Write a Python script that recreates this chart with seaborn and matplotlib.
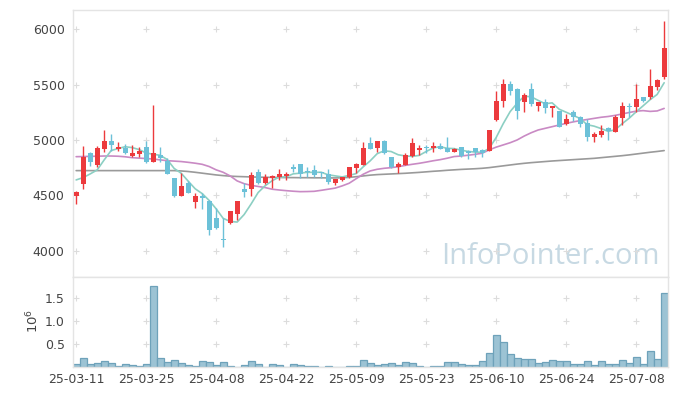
import numpy as np
import pandas as pd
import matplotlib
matplotlib.use("Agg")
import matplotlib.pyplot as plt
import seaborn as sns

tick_labels = ['25-03-11', '25-03-25', '25-04-08', '25-04-22', '25-05-09',
               '25-05-23', '25-06-10', '25-06-24', '25-07-08']

opens = [4497, 4600, 4880, 4778, 4922, 4991, 4922, 4931, 4858, 4877,
         4937, 4805, 4865, 4813, 4654, 4497, 4615, 4443, 4491, 4449,
         4293, 4106, 4253, 4335, 4558, 4561, 4708, 4609, 4660, 4669,
         4672, 4753, 4783, 4723, 4729, 4714, 4693, 4615, 4639, 4663,
         4750, 4777, 4970, 4931, 4991, 4846, 4753, 4777, 4858, 4910,
         4937, 4925, 4946, 4931, 4895, 4937, 4895, 4925, 4910, 4904,
         5181, 5355, 5506, 5461, 5346, 5461, 5307, 5346, 5289, 5262,
         5141, 5250, 5211, 5157, 5030, 5045, 5111, 5075, 5202, 5307,
         5301, 5388, 5385, 5482, 5572]
highs = [4542, 4946, 4895, 4949, 5090, 5051, 4985, 4964, 4958, 4937,
         4994, 5313, 4940, 4834, 4660, 4705, 4625, 4518, 4518, 4458,
         4383, 4293, 4360, 4452, 4609, 4708, 4735, 4693, 4680, 4735,
         4714, 4783, 4783, 4759, 4774, 4714, 4735, 4651, 4666, 4756,
         4789, 4985, 5030, 4994, 5000, 4850, 4798, 4880, 5015, 4955,
         4955, 4979, 4970, 5024, 4925, 4937, 4910, 4928, 4919, 5093,
         5443, 5548, 5533, 5465, 5421, 5512, 5345, 5367, 5307, 5265,
         5235, 5271, 5220, 5187, 5075, 5136, 5114, 5226, 5340, 5331,
         5503, 5391, 5638, 5554, 6077]
lows = [4422, 4555, 4765, 4759, 4895, 4904, 4904, 4874, 4843, 4843,
        4789, 4798, 4798, 4693, 4488, 4495, 4518, 4383, 4374, 4139,
        4193, 4037, 4245, 4278, 4488, 4494, 4600, 4600, 4570, 4639,
        4639, 4708, 4660, 4663, 4663, 4654, 4600, 4594, 4630, 4654,
        4699, 4774, 4916, 4895, 4877, 4750, 4699, 4774, 4850, 4865,
        4880, 4895, 4919, 4892, 4892, 4850, 4826, 4850, 4850, 4901,
        5172, 5301, 5406, 5187, 5250, 5307, 5262, 5241, 5205, 5114,
        5135, 5175, 5114, 4994, 4985, 5030, 5000, 5072, 5132, 5211,
        5256, 5346, 5370, 5452, 5551]
closes = [4530, 4846, 4805, 4925, 4991, 4955, 4937, 4886, 4886, 4901,
          4801, 4880, 4840, 4696, 4497, 4585, 4524, 4494, 4479, 4187,
          4205, 4094, 4356, 4449, 4528, 4684, 4609, 4663, 4675, 4693,
          4696, 4741, 4696, 4714, 4687, 4705, 4624, 4648, 4666, 4756,
          4786, 4928, 4919, 4991, 4886, 4753, 4783, 4865, 4970, 4931,
          4928, 4946, 4922, 4895, 4919, 4858, 4886, 4895, 4886, 5090,
          5352, 5506, 5446, 5265, 5406, 5328, 5343, 5292, 5307, 5120,
          5190, 5205, 5144, 5030, 5054, 5081, 5081, 5211, 5307, 5301,
          5370, 5355, 5488, 5542, 5828]
volumes = [0.073, 0.205, 0.073, 0.095, 0.139, 0.095, 0.030, 0.073, 0.051, 0.030,
           0.073, 1.766, 0.205, 0.117, 0.161, 0.095, 0.051, 0.030, 0.139, 0.117,
           0.051, 0.117, 0.030, 0.010, 0.051, 0.139, 0.073, 0.010, 0.073, 0.051,
           0.010, 0.073, 0.051, 0.030, 0.030, 0.010, 0.030, 0.010, 0.010, 0.030,
           0.030, 0.161, 0.095, 0.051, 0.073, 0.095, 0.051, 0.117, 0.095, 0.030,
           0.010, 0.030, 0.030, 0.117, 0.117, 0.073, 0.051, 0.051, 0.139, 0.315,
           0.710, 0.557, 0.293, 0.205, 0.183, 0.183, 0.095, 0.117, 0.161, 0.139,
           0.139, 0.073, 0.073, 0.139, 0.051, 0.139, 0.073, 0.073, 0.161, 0.095,
           0.227, 0.073, 0.359, 0.183, 1.610]
ma5_head = [4639, 4660, 4693, 4729]
ma20 = [4849, 4850, 4852, 4853, 4855, 4855, 4853, 4848, 4840, 4836,
        4832, 4828, 4820, 4813, 4809, 4805, 4798, 4790, 4780, 4760,
        4730, 4708, 4675, 4630, 4605, 4590, 4580, 4570, 4555, 4548,
        4542, 4537, 4533, 4534, 4536, 4545, 4555, 4565, 4585, 4609,
        4650, 4690, 4720, 4735, 4744, 4750, 4758, 4770, 4780, 4789,
        4800, 4812, 4822, 4835, 4850, 4855, 4862, 4870, 4880, 4910,
        4935, 4955, 4975, 5000, 5035, 5065, 5090, 5105, 5120, 5135,
        5150, 5163, 5175, 5185, 5195, 5205, 5212, 5222, 5235, 5248,
        5260, 5265, 5258, 5262, 5285]
ma60 = [4723, 4723, 4723, 4723, 4723, 4723, 4723, 4723, 4723, 4723,
        4723, 4723, 4723, 4723, 4723, 4720, 4715, 4708, 4700, 4692,
        4684, 4678, 4673, 4670, 4668, 4666, 4664, 4663, 4662, 4661,
        4660, 4660, 4659, 4659, 4658, 4658, 4657, 4657, 4658, 4662,
        4668, 4675, 4682, 4687, 4690, 4693, 4696, 4699, 4703, 4707,
        4712, 4717, 4721, 4726, 4730, 4734, 4737, 4740, 4744, 4750,
        4758, 4766, 4774, 4782, 4789, 4795, 4800, 4805, 4810, 4814,
        4818, 4822, 4826, 4830, 4834, 4840, 4846, 4852, 4858, 4865,
        4873, 4881, 4889, 4896, 4904]

sns.set_theme(style="white")
plt.rcParams['font.family'] = ['DejaVu Sans']

RED = '#ec3a3d'
BLUE = '#6cc1d8'
MA5_C = '#8ccfc3'
MA20_C = '#c98ac4'
MA60_C = '#9a9a9a'
SPINE = '#e4e4e4'
TXT = '#444444'

n = len(closes)
idx = np.arange(n)
ma5 = pd.Series(closes, dtype=float).rolling(5).mean().to_numpy()
ma5[:4] = ma5_head
df = pd.DataFrame({'idx': idx, 'open': opens, 'high': highs, 'low': lows,
                   'close': closes, 'vol': volumes, 'ma5': ma5,
                   'ma20': ma20, 'ma60': ma60})
df['up'] = df['close'] >= df['open']
df['color'] = np.where(df['up'], RED, BLUE)

W, H = 677, 396
fig = plt.figure(figsize=(W / 100, H / 100), dpi=100)
L, R = 73, 668
ax = fig.add_axes([L / W, 1 - 277 / H, (R - L) / W, (277 - 10) / H])
axv = fig.add_axes([L / W, 1 - 367 / H, (R - L) / W, (367 - 277) / H])

# watermark (behind data)
ax.text((550 - L) / (R - L), 1 - (256 - 10) / 267, 'InfoPointer.com',
        transform=ax.transAxes, ha='center', va='center',
        fontsize=21, color='#c7d9e3', family=['Open Sans', 'DejaVu Sans'], zorder=0)

# MA lines
sns.lineplot(data=df, x='idx', y='ma60', ax=ax, color=MA60_C, lw=1.2)
sns.lineplot(data=df, x='idx', y='ma20', ax=ax, color=MA20_C, lw=1.2)
sns.lineplot(data=df, x='idx', y='ma5', ax=ax, color=MA5_C, lw=1.2)

# candles
ax.vlines(df['idx'], df['low'], df['high'], colors=df['color'], lw=1.0, zorder=3)
body_bottom = np.minimum(df['open'], df['close'])
body_h = np.maximum(np.abs(df['close'] - df['open']), 10)
ax.bar(df['idx'], body_h, bottom=body_bottom, width=0.68,
       color=df['color'], linewidth=0, zorder=4)

# volume
sns.barplot(data=df, x='idx', y='vol', ax=axv, native_scale=True,
            color='#9cc3d4', saturation=1, width=1.0,
            edgecolor='#6ea2ba', linewidth=0.9)

xt = np.arange(0, n, 10)
for a in (ax, axv):
    a.set_xlim(-0.45, 84.55)
    a.set_xticks(xt)
    a.set_xlabel('')
    a.set_ylabel('')
    for s in a.spines.values():
        s.set_color(SPINE)
        s.set_linewidth(1.0)
    a.tick_params(length=0, colors=TXT, labelsize=9)
    a.set_facecolor('white')

ax.set_ylim(3762, 6174)
yt = [4000, 4500, 5000, 5500, 6000]
ax.set_yticks(yt)
ax.set_yticklabels([str(v) for v in yt])
ax.set_xticklabels([])
ax.tick_params(axis='y', pad=6)

axv.set_ylim(0, 1.97)
vt = [0.5, 1.0, 1.5]
axv.set_yticks(vt)
axv.set_yticklabels(['0.5', '1.0', '1.5'])
axv.set_xticklabels(tick_labels)
axv.tick_params(axis='y', pad=6)
axv.tick_params(axis='x', pad=4)

# cross-shaped grid marks
gx, gy = np.meshgrid(xt, yt)
ax.scatter(gx.ravel(), gy.ravel(), marker='+', s=22, color='#dcdcdc', lw=0.8, zorder=1)
gx2, gy2 = np.meshgrid(xt, vt)
axv.scatter(gx2.ravel(), gy2.ravel(), marker='+', s=22, color='#dcdcdc', lw=0.8, zorder=0)

fig.text(33 / W, 1 - 321 / H, r'$\mathregular{10^6}$', rotation=90,
         ha='center', va='center', fontsize=9.5, color=TXT)

fig.savefig('out.png', dpi=100, facecolor='white')
